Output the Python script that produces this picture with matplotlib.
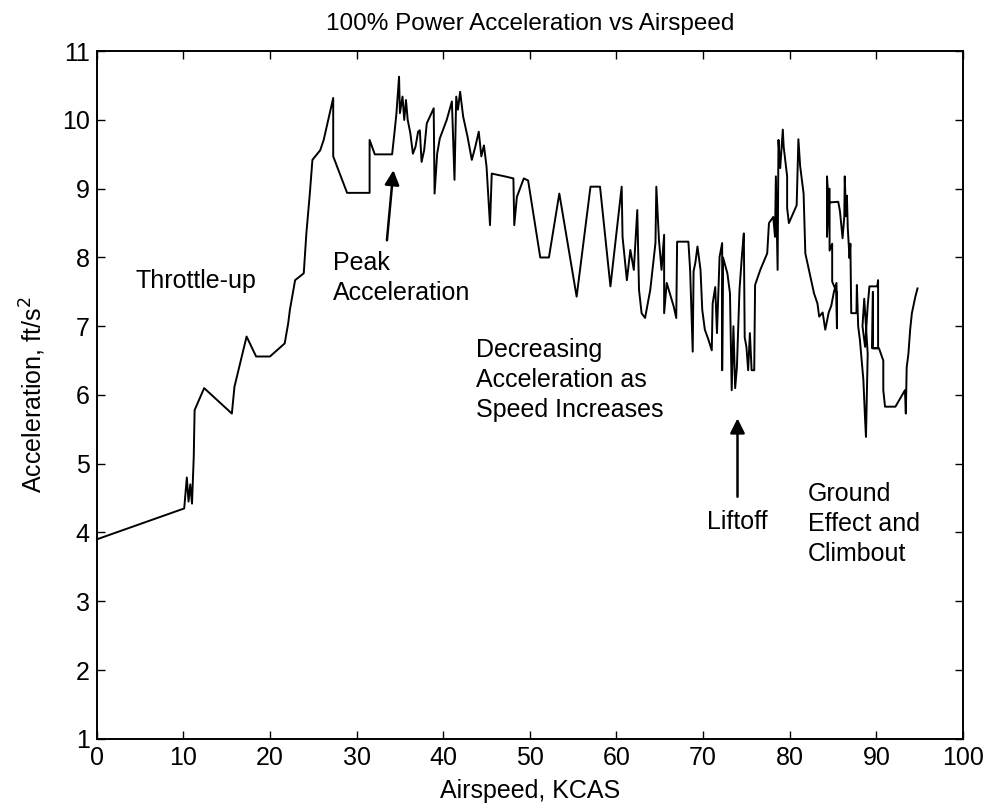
import matplotlib
matplotlib.use("Agg")
import matplotlib.pyplot as plt

plt.rcParams['font.family'] = ['Liberation Sans', 'DejaVu Sans']

# Measured airspeed (KCAS) and longitudinal acceleration (ft/s^2), in recorded order
airspeed = [
    0.0, 10.1, 10.4, 10.6, 10.8, 11.0, 11.2, 11.3, 12.4, 15.6, 15.9, 17.3, 18.4,
    20.0, 21.7, 22.1, 22.3, 22.9, 23.9, 24.2, 24.6, 24.9, 25.8, 26.2, 27.3, 27.3,
    28.9, 31.5, 31.5, 32.1, 34.1, 34.4, 34.6, 34.9, 35.0, 35.3, 35.5, 35.7, 35.9,
    36.2, 36.5, 36.8, 37.1, 37.3, 37.5, 37.8, 38.1, 38.9, 39.0, 39.3, 39.6, 40.4,
    41.0, 41.3, 41.5, 41.7, 41.95, 42.3, 42.8, 43.3, 43.7, 44.1, 44.4, 44.7, 45.0,
    45.4, 45.6, 47.1, 48.1, 48.2, 48.5, 49.3, 49.8, 51.2, 52.2, 53.4, 55.4, 57.0,
    58.1, 59.3, 60.6, 60.7, 61.2, 61.6, 62.0, 62.4, 62.6, 62.9, 63.3, 63.9, 64.5,
    64.6, 64.9, 65.2, 65.5, 65.5, 65.8, 66.6, 66.9, 67.0, 68.3, 68.5, 68.8, 68.9,
    69.1, 69.35, 69.7, 69.9, 70.2, 70.6, 71.0, 71.1, 71.4, 71.6, 71.9, 72.2, 72.2,
    72.3, 72.8, 73.1, 73.3, 73.5, 73.7, 73.9, 74.2, 74.5, 74.7, 74.8, 75.0, 75.2,
    75.4, 75.6, 75.9, 76.0, 76.6, 77.4, 77.6, 78.1, 78.3, 78.4, 78.6, 78.7, 78.9,
    79.2, 79.3, 79.7, 79.7, 79.9, 80.8, 81.0, 81.2, 81.6, 81.8, 82.8, 83.2, 83.4,
    83.8, 84.1, 84.5, 84.8, 85.1, 85.4, 85.45, 85.4, 84.9, 84.9, 84.6, 84.6, 84.3,
    84.3, 84.5, 85.6, 85.8, 86.0, 86.1, 86.3, 86.35, 86.5, 86.6, 86.7, 86.9, 87.0,
    87.1, 87.7, 87.75, 87.9, 88.1, 88.3, 88.5, 88.7, 88.8, 88.9, 89.0, 88.6, 88.4,
    88.7, 89.0, 89.2, 90.1, 90.2, 90.2, 89.6, 89.6, 89.5, 90.3, 90.8, 90.8, 91.0,
    92.2, 93.3, 93.4, 93.5, 93.7, 93.9, 94.1, 94.5, 94.75,
]
acceleration = [
    3.9, 4.35, 4.8, 4.45, 4.7, 4.42, 5.1, 5.78, 6.1, 5.73, 6.12, 6.85, 6.56,
    6.56, 6.75, 7.04, 7.24, 7.67, 7.77, 8.35, 8.93, 9.42, 9.56, 9.71, 10.32, 9.47,
    8.94, 8.94, 9.71, 9.5, 9.5, 9.85, 10.1, 10.63, 10.1, 10.34, 10.0, 10.29, 10.0,
    9.81, 9.51, 9.61, 9.83, 9.85, 9.39, 9.56, 9.95, 10.17, 8.93, 9.51, 9.73, 10.0,
    10.27, 9.13, 10.34, 10.15, 10.41, 10.05, 9.76, 9.42, 9.61, 9.83, 9.47, 9.63, 9.32,
    8.47, 9.22, 9.18, 9.15, 8.47, 8.88, 9.15, 9.12, 8.0, 8.0, 8.93, 7.43, 9.03,
    9.03, 7.58, 9.03, 8.3, 7.67, 8.11, 7.82, 8.69, 7.53, 7.19, 7.12, 7.53, 8.21,
    9.03, 8.26, 7.82, 8.33, 7.19, 7.63, 7.29, 7.12, 8.23, 8.23, 7.82, 6.63, 7.8,
    7.92, 8.16, 7.82, 7.24, 6.95, 6.81, 6.65, 7.33, 7.57, 6.9, 8.01, 8.21, 6.36,
    8.0, 7.77, 7.48, 6.07, 7.0, 6.1, 6.4, 7.53, 8.06, 8.35, 6.84, 6.7, 6.36,
    6.9, 6.36, 6.36, 7.6, 7.82, 8.06, 8.5, 8.59, 8.3, 9.18, 7.82, 9.71, 9.3,
    9.86, 9.61, 9.18, 8.72, 8.5, 8.76, 9.72, 9.33, 8.93, 8.06, 7.48, 7.33, 7.14,
    7.2, 6.95, 7.2, 7.3, 7.5, 7.63, 6.97, 7.5, 7.65, 8.2, 8.1, 9.0, 8.3,
    9.18, 8.8, 8.81, 8.67, 8.4, 8.28, 8.6, 9.18, 8.6, 8.9, 8.43, 7.99, 8.2,
    7.19, 7.19, 7.6, 7.0, 6.8, 6.51, 6.22, 5.64, 5.39, 6.0, 6.6, 7.4, 7.0,
    6.7, 7.3, 7.58, 7.58, 7.67, 6.68, 6.68, 7.5, 6.68, 6.68, 6.5, 6.07, 5.83,
    5.83, 6.07, 5.73, 6.4, 6.6, 6.95, 7.19, 7.43, 7.55,
]

x_ticks = [0, 10, 20, 30, 40, 50, 60, 70, 80, 90, 100]
y_ticks = [1, 2, 3, 4, 5, 6, 7, 8, 9, 10, 11]

FS = 18

fig = plt.figure(figsize=(9.89, 8.08), dpi=100)
ax = fig.add_axes([0.0978, 0.0857, 0.8759, 0.8509])

ax.plot(airspeed, acceleration, color='black', linewidth=1.4)

ax.set_xlim(0, 100)
ax.set_ylim(1, 11)
ax.set_xticks(x_ticks)
ax.set_yticks(y_ticks)
ax.tick_params(direction='in', length=6, width=1, top=True, right=True,
               labelsize=FS, pad=5)
for spine in ax.spines.values():
    spine.set_linewidth(1.4)

ax.set_title('100% Power Acceleration vs Airspeed', fontsize=17.5, pad=15)
ax.set_xlabel('Airspeed, KCAS', fontsize=FS, labelpad=7)
ax.set_ylabel('Acceleration, ft/s$^2$', fontsize=FS, labelpad=10)

# Flight-phase annotations
ax.text(4.5, 7.66, 'Throttle-up', fontsize=FS, ha='left', va='center')
ax.text(27.3, 8.09, 'Peak\nAcceleration', fontsize=FS, ha='left', va='top',
        linespacing=1.3)
ax.text(43.8, 6.83, 'Decreasing\nAcceleration as\nSpeed Increases', fontsize=FS,
        ha='left', va='top', linespacing=1.32)
ax.text(70.4, 4.32, 'Liftoff', fontsize=FS, ha='left', va='top')
ax.text(82.1, 4.74, 'Ground\nEffect and\nClimbout', fontsize=FS, ha='left',
        va='top', linespacing=1.32)

arrow = dict(arrowstyle='-|>', color='black', lw=1.8, mutation_scale=22,
             shrinkA=0, shrinkB=0)
ax.annotate('', xy=(34.25, 9.27), xytext=(33.5, 8.25), arrowprops=arrow)
ax.annotate('', xy=(73.97, 5.66), xytext=(73.97, 4.52), arrowprops=arrow)

fig.savefig('out.png', dpi=100)
